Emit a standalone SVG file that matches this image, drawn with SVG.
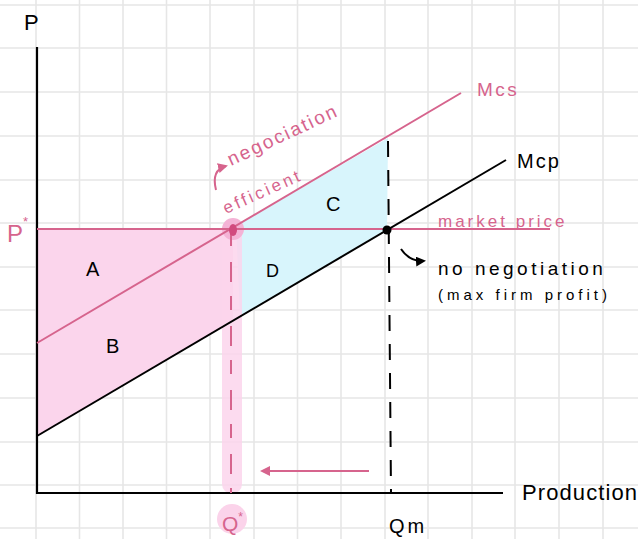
<svg xmlns="http://www.w3.org/2000/svg" width="638" height="539" viewBox="0 0 638 539">
<defs>
<style>
.grid{stroke:#e6e6e6;stroke-width:1.6}
.axis{stroke:#000;stroke-width:2.2;fill:none}
.pk{stroke:#d6648d;stroke-width:2;fill:none}
.bk{stroke:#000;stroke-width:2;fill:none}
.tb{font-family:"Liberation Sans",Arial,sans-serif;fill:#000}
.tp{font-family:"Liberation Sans",Arial,sans-serif;fill:#d6648d}
</style>
<marker id="ahp" viewBox="0 0 10 10" refX="8" refY="5" markerWidth="5" markerHeight="5" orient="auto"><path d="M0,0 L10,5 L0,10 Z" fill="#d6648d"/></marker>
<marker id="ahb" viewBox="0 0 10 10" refX="8" refY="5" markerWidth="5" markerHeight="5" orient="auto"><path d="M0,0 L10,5 L0,10 Z" fill="#000"/></marker>
</defs>
<rect width="638" height="539" fill="#fff"/>
<g id="grid">
<path class="grid" d="M36,0V539M79.5,0V539M123,0V539M166.5,0V539M210,0V539M254,0V539M297.5,0V539M341,0V539M385,0V539M428,0V539M472,0V539M515,0V539M559,0V539M603,0V539"/>
<path class="grid" d="M0,5H638M0,48H638M0,92H638M0,136H638M0,180H638M0,223H638M0,267H638M0,310H638M0,354H638M0,398H638M0,442H638M0,485H638M0,528H638"/>
</g>
<g id="areas">
<polygon id="area-AB" points="37,229 233,229 233,321 37,436" fill="#fbd5ec"/>
<polygon id="area-CD" points="236,226 388,138 387,229 240,317" fill="#d8f5fc"/>
<rect id="qstar-band" x="222" y="222" width="20" height="272" rx="10" fill="#fbd5ec" opacity="0.85"/>
<circle cx="233" cy="229" r="11" fill="#f4b3d6"/>
<circle cx="232" cy="519" r="15" fill="#fbd3ea"/>
</g>
<g id="axes">
<path class="axis" d="M37,47V493H503"/>
</g>
<g id="connectors">
<path id="market-price" class="pk" d="M37,229H550"/>
<path id="mcs" class="pk" d="M37,343L461,93"/>
<path id="mcp" class="bk" d="M37,436L506,160"/>
<path id="qm-dash" class="bk" d="M388,141L391,492" stroke-dasharray="16 13"/>
<path id="qstar-dash" class="pk" d="M231,232L231,493" stroke-dasharray="14 16 20 14"/>
<path id="move-arrow" class="pk" d="M369,471H262" marker-end="url(#ahp)"/>
<path id="neg-arrow" class="pk" d="M216,190Q211,170 226,166" stroke-width="1.8" marker-end="url(#ahp)"/>
<path id="noneg-arrow" class="bk" d="M401,249Q410,262 424,261" stroke-width="1.8" marker-end="url(#ahb)"/>
</g>
<g id="points">
<ellipse cx="233" cy="230" rx="4" ry="6" fill="#d14a7e"/>
<circle cx="387" cy="230" r="4.5" fill="#000"/>
</g>
<g id="labels">
<text class="tb" x="24" y="30" font-size="22">P</text>
<text class="tp" x="7" y="242" font-size="24">P<tspan font-size="13" dy="-16">*</tspan></text>
<text class="tp" x="477" y="96" font-size="19" letter-spacing="2.5">Mcs</text>
<text class="tb" x="517" y="168" font-size="20" letter-spacing="2">Mcp</text>
<text class="tp" x="438" y="227" font-size="17" letter-spacing="3">market price</text>
<text class="tb" x="438" y="275" font-size="19" letter-spacing="3.5">no negotiation</text>
<text class="tb" x="438" y="300" font-size="15" letter-spacing="4">(max firm profit)</text>
<text class="tb" x="522" y="500" font-size="22" letter-spacing="1.1">Production</text>
<text class="tb" x="389" y="533" font-size="20" letter-spacing="3">Qm</text>
<text class="tp" x="222" y="531" font-size="21">Q<tspan font-size="12" dy="-10">*</tspan></text>
<text class="tp" x="231" y="166" font-size="19" letter-spacing="2.1" transform="rotate(-25 231 166)">negociation</text>
<text class="tp" x="226" y="214" font-size="17" letter-spacing="3" transform="rotate(-24 226 214)">efficient</text>
<text class="tb" x="86" y="276" font-size="20">A</text>
<text class="tb" x="106" y="353" font-size="20">B</text>
<text class="tb" x="326" y="211" font-size="20">C</text>
<text class="tb" x="266" y="277" font-size="18">D</text>
</g>
</svg>
